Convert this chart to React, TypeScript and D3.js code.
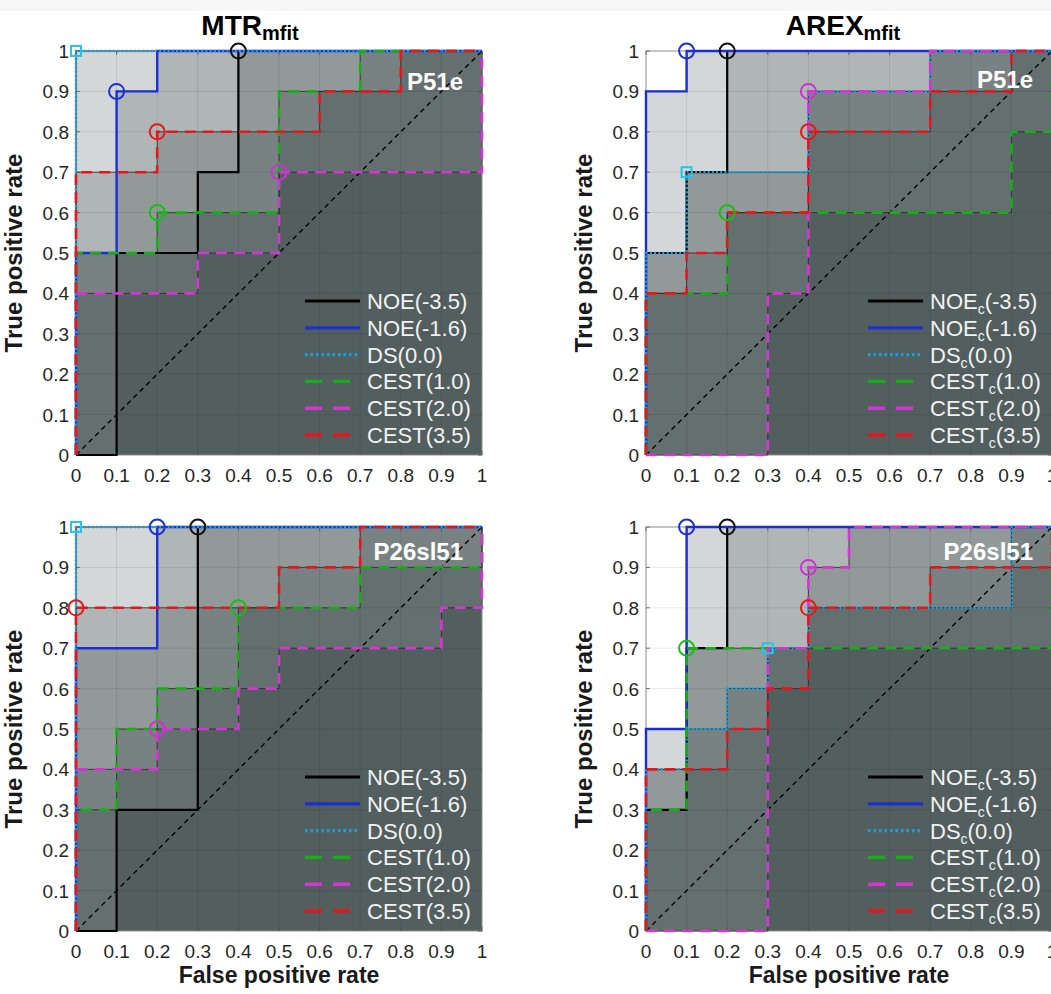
import React from "react";
import * as d3 from "d3";

type Pt = [number, number];

const fprTicks = [0, 0.1, 0.2, 0.3, 0.4, 0.5, 0.6, 0.7, 0.8, 0.9, 1];
const tprTicks = [0, 0.1, 0.2, 0.3, 0.4, 0.5, 0.6, 0.7, 0.8, 0.9, 1];

const seriesNames = ["NOE", "NOE", "DS", "CEST", "CEST", "CEST"];
const seriesOffsets = ["(-3.5)", "(-1.6)", "(0.0)", "(1.0)", "(2.0)", "(3.5)"];

// ROC step curves (FPR, TPR) per panel, in legend order
const mtrP51e: Pt[][] = [
  [[0, 0], [0.1, 0], [0.1, 0.5], [0.3, 0.5], [0.3, 0.7], [0.4, 0.7], [0.4, 1], [1, 1]],
  [[0, 0], [0, 0.5], [0.1, 0.5], [0.1, 0.9], [0.2, 0.9], [0.2, 1], [1, 1]],
  [[0, 0], [0, 1], [1, 1]],
  [[0, 0], [0, 0.5], [0.2, 0.5], [0.2, 0.6], [0.5, 0.6], [0.5, 0.9], [0.7, 0.9], [0.7, 1], [1, 1]],
  [[0, 0], [0, 0.4], [0.3, 0.4], [0.3, 0.5], [0.5, 0.5], [0.5, 0.7], [1, 0.7], [1, 1]],
  [[0, 0], [0, 0.7], [0.2, 0.7], [0.2, 0.8], [0.6, 0.8], [0.6, 0.9], [0.8, 0.9], [0.8, 1], [1, 1]],
];
const mtrP51eOpt: Pt[] = [[0.4, 1], [0.1, 0.9], [0, 1], [0.2, 0.6], [0.5, 0.7], [0.2, 0.8]];

const arexP51e: Pt[][] = [
  [[0, 0], [0, 0.5], [0.1, 0.5], [0.1, 0.7], [0.2, 0.7], [0.2, 1], [1, 1]],
  [[0, 0], [0, 0.9], [0.1, 0.9], [0.1, 1], [1, 1]],
  [[0, 0], [0, 0.5], [0.1, 0.5], [0.1, 0.7], [0.4, 0.7], [0.4, 0.9], [0.7, 0.9], [0.7, 1], [1, 1]],
  [[0, 0], [0, 0.4], [0.2, 0.4], [0.2, 0.6], [0.9, 0.6], [0.9, 0.8], [1, 0.8], [1, 1]],
  [[0, 0], [0.3, 0], [0.3, 0.4], [0.4, 0.4], [0.4, 0.9], [0.7, 0.9], [0.7, 1], [1, 1]],
  [[0, 0], [0, 0.4], [0.1, 0.4], [0.1, 0.5], [0.2, 0.5], [0.2, 0.6], [0.4, 0.6], [0.4, 0.8], [0.7, 0.8], [0.7, 0.9], [0.9, 0.9], [0.9, 1], [1, 1]],
];
const arexP51eOpt: Pt[] = [[0.2, 1], [0.1, 1], [0.1, 0.7], [0.2, 0.6], [0.4, 0.9], [0.4, 0.8]];

const mtrP26: Pt[][] = [
  [[0, 0], [0.1, 0], [0.1, 0.3], [0.3, 0.3], [0.3, 1], [1, 1]],
  [[0, 0], [0, 0.7], [0.2, 0.7], [0.2, 1], [1, 1]],
  [[0, 0], [0, 1], [1, 1]],
  [[0, 0], [0, 0.3], [0.1, 0.3], [0.1, 0.5], [0.2, 0.5], [0.2, 0.6], [0.4, 0.6], [0.4, 0.8], [0.7, 0.8], [0.7, 0.9], [1, 0.9], [1, 1]],
  [[0, 0], [0, 0.4], [0.2, 0.4], [0.2, 0.5], [0.4, 0.5], [0.4, 0.6], [0.5, 0.6], [0.5, 0.7], [0.9, 0.7], [0.9, 0.8], [1, 0.8], [1, 1]],
  [[0, 0], [0, 0.8], [0.5, 0.8], [0.5, 0.9], [0.7, 0.9], [0.7, 1], [1, 1]],
];
const mtrP26Opt: Pt[] = [[0.3, 1], [0.2, 1], [0, 1], [0.4, 0.8], [0.2, 0.5], [0, 0.8]];

const arexP26: Pt[][] = [
  [[0, 0], [0, 0.3], [0.1, 0.3], [0.1, 0.7], [0.2, 0.7], [0.2, 1], [1, 1]],
  [[0, 0], [0, 0.5], [0.1, 0.5], [0.1, 1], [1, 1]],
  [[0, 0], [0, 0.4], [0.1, 0.4], [0.1, 0.5], [0.2, 0.5], [0.2, 0.6], [0.3, 0.6], [0.3, 0.7], [0.4, 0.7], [0.4, 0.8], [0.9, 0.8], [0.9, 1], [1, 1]],
  [[0, 0], [0, 0.3], [0.1, 0.3], [0.1, 0.7], [1, 0.7], [1, 1]],
  [[0, 0], [0.3, 0], [0.3, 0.7], [0.4, 0.7], [0.4, 0.9], [0.5, 0.9], [0.5, 1], [1, 1]],
  [[0, 0], [0, 0.4], [0.2, 0.4], [0.2, 0.5], [0.3, 0.5], [0.3, 0.6], [0.4, 0.6], [0.4, 0.8], [0.7, 0.8], [0.7, 0.9], [1, 0.9], [1, 1]],
];
const arexP26Opt: Pt[] = [[0.2, 1], [0.1, 1], [0.3, 0.7], [0.1, 0.7], [0.4, 0.9], [0.4, 0.8]];

const colors = ["#000000", "#1b2fd2", "#16a2e2", "#14b014", "#d535d5", "#e8161c"];
const markerColors = ["#111111", "#1b2fd2", "#22c6e6", "#14c014", "#d030d0", "#e81818"];
const dashes = ["", "", "2,2.2", "11,7", "11,7", "11,7"];
const legendDashes = ["", "", "2.5,3", "17,11", "17,11", "17,11"];
const widths = [2.2, 2.4, 2.6, 2.6, 2.6, 2.6];

const W = 406;
const H = 404;
const FONT = "'Liberation Sans', Arial, Helvetica, sans-serif";

function Panel({ left, top, curves, opt, title, label, labelDy, sub, xLabel, legendDx }: any) {
  const x = d3.scaleLinear().domain([0, 1]).range([0, W]);
  const y = d3.scaleLinear().domain([0, 1]).range([H, 0]);
  const area = d3.area<Pt>().x(d => x(d[0])).y0(y(0)).y1(d => y(d[1]));
  const line = d3.line<Pt>().x(d => x(d[0])).y(d => y(d[1]));

  return (
    <g transform={`translate(${left},${top})`}>
      {/* fills under each curve */}
      {curves.map((c: Pt[], i: number) => (
        <path key={"f" + i} d={area(c) as string} fill="#001414" fillOpacity={0.17} stroke="none" />
      ))}
      {/* grid */}
      {fprTicks.slice(1, -1).map(t => (
        <line key={"gx" + t} x1={x(t)} x2={x(t)} y1={0} y2={H} stroke="#000" strokeOpacity={0.1} strokeWidth={0.9} />
      ))}
      {tprTicks.slice(1, -1).map(t => (
        <line key={"gy" + t} x1={0} x2={W} y1={y(t)} y2={y(t)} stroke="#000" strokeOpacity={0.1} strokeWidth={0.9} />
      ))}
      <rect x={0} y={0} width={W} height={H} fill="none" stroke="#8c8c8c" strokeWidth={1} />
      {/* ticks */}
      {fprTicks.map(t => (
        <g key={"tx" + t}>
          <line x1={x(t)} x2={x(t)} y1={H} y2={H - 4} stroke="#555" strokeWidth={0.8} />
          <line x1={x(t)} x2={x(t)} y1={0} y2={4} stroke="#555" strokeWidth={0.8} />
          <text x={x(t)} y={H + 27} textAnchor="middle" fontSize={19} fill="#262626">{t}</text>
        </g>
      ))}
      {tprTicks.map(t => (
        <g key={"ty" + t}>
          <line x1={0} x2={4} y1={y(t)} y2={y(t)} stroke="#555" strokeWidth={0.8} />
          <line x1={W} x2={W - 4} y1={y(t)} y2={y(t)} stroke="#555" strokeWidth={0.8} />
          <text x={-7} y={y(t) + 7} textAnchor="end" fontSize={19} fill="#262626">{t}</text>
        </g>
      ))}
      {/* chance line */}
      <line x1={x(0)} y1={y(0)} x2={x(1)} y2={y(1)} stroke="#000" strokeWidth={1.4} strokeDasharray="5,4" />
      {/* thin fill edges */}
      {curves.map((c: Pt[], i: number) => (
        <path key={"e" + i} d={line(c) as string} fill="none" stroke="#2b2b2b" strokeWidth={0.8} />
      ))}
      {/* curves */}
      {curves.map((c: Pt[], i: number) => (
        <path key={"c" + i} d={line(c) as string} fill="none" stroke={colors[i]} strokeWidth={widths[i]}
          strokeDasharray={dashes[i] || undefined} />
      ))}
      {/* optimal operating points */}
      {opt.map((p: Pt, i: number) =>
        i === 2 ? (
          <rect key={"m" + i} x={x(p[0]) - 5} y={y(p[1]) - 5} width={10} height={10} fill="none"
            stroke={markerColors[i]} strokeWidth={2} />
        ) : (
          <circle key={"m" + i} cx={x(p[0])} cy={y(p[1])} r={7.5} fill="none" stroke={markerColors[i]} strokeWidth={2} />
        )
      )}
      {/* panel label */}
      <text x={W - 19} y={labelDy} textAnchor="end" fontSize={24} fontWeight="bold" fill="#ffffff">{label}</text>
      {/* legend */}
      {seriesNames.map((n, i) => {
        const ly = 250 + i * 26.8;
        return (
          <g key={"l" + i}>
            <line x1={legendDx} x2={legendDx + 55} y1={ly} y2={ly} stroke={colors[i]} strokeWidth={i < 2 ? 3.2 : 3.4}
              strokeDasharray={legendDashes[i] || undefined} />
            <text x={legendDx + 62} y={ly + 8} fontSize={22} fill="#f2f2f2">
              {n}
              {sub ? <tspan fontSize={14} dy={5}>c</tspan> : null}
              {sub ? <tspan dy={-5}>{seriesOffsets[i]}</tspan> : seriesOffsets[i]}
            </text>
          </g>
        );
      })}
      {/* axis labels */}
      <text transform={`translate(-54,${H / 2}) rotate(-90)`} textAnchor="middle" fontSize={24} fontWeight="bold" fill="#1a1a1a">
        True positive rate
      </text>
      {xLabel ? (
        <text x={W / 2} y={H + 52} textAnchor="middle" fontSize={23} fontWeight="bold" fill="#1a1a1a">False positive rate</text>
      ) : null}
      {title ? (
        <text x={title.cx} y={-16} textAnchor="middle" fontSize={28} fontWeight="bold" fill="#000">
          {title.main}
          <tspan fontSize={20} dy={5}>mfit</tspan>
        </text>
      ) : null}
    </g>
  );
}

export default function App() {
  return (
    <svg width={1051} height={994} style={{ position: "absolute", left: 0, top: 0, background: "#fff" }} fontFamily={FONT}>
      <rect x={0} y={0} width={1051} height={11} fill="#f7f7f7" />
      <Panel left={76} top={51} curves={mtrP51e} opt={mtrP51eOpt} title={{ main: "MTR", cx: 174 }} label="P51e"
        labelDy={39} sub={false} xLabel={false} legendDx={229} />
      <Panel left={646} top={51} curves={arexP51e} opt={arexP51eOpt} title={{ main: "AREX", cx: 197 }} label="P51e"
        labelDy={37} sub={true} xLabel={false} legendDx={222} />
      <Panel left={76} top={527} curves={mtrP26} opt={mtrP26Opt} label="P26sl51"
        labelDy={33} sub={false} xLabel={true} legendDx={229} />
      <Panel left={646} top={527} curves={arexP26} opt={arexP26Opt} label="P26sl51"
        labelDy={33} sub={true} xLabel={true} legendDx={222} />
    </svg>
  );
}
